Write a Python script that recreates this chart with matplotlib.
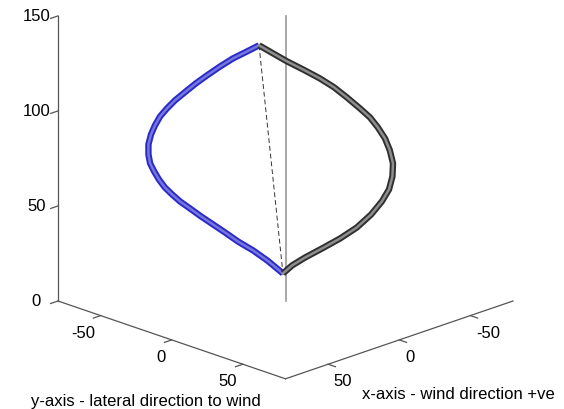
import matplotlib
matplotlib.use("Agg")
import matplotlib.pyplot as plt
from mpl_toolkits.mplot3d import proj3d

plt.rcParams['font.family'] = ['Liberation Sans', 'DejaVu Sans']
plt.rcParams['axes.unicode_minus'] = False

# blue curve (lateral side)
blue_x = [9.3, 14.2, 18.5, 23.0, 27.6, 31.5, 34.6, 38.9, 41.7, 44.1, 45.9, 47.3, 48.2, 48.2,
          47.6, 46.2, 44.5, 42.4, 39.9, 37.1, 33.6, 29.7, 25.5, 21.3, 16.7, 11.4, 6.2, 0.9]
blue_y = [-v for v in blue_x]
blue_z = [134.5, 130.8, 127.6, 123.4, 118.7, 114.5, 110.8, 105.5, 101.3, 97.1, 92.4, 87.6, 82.4, 77.1,
          72.4, 68.2, 63.9, 59.7, 56.1, 52.4, 48.7, 44.5, 40.3, 36.1, 31.3, 26.6, 21.1, 14.5]

# black curve
black_x = [9.3, 4.4, -0.5, -6.2, -12.1, -17.1, -21.6, -26.2, -29.7, -32.5, -35.0, -36.7,
           -37.8, -37.6, -36.4, -33.9, -30.1, -25.1, -19.2, -12.8, -6.9, -2.3, 0.9]
black_y = [-v for v in black_x]
black_z = [134.5, 130.3, 126.1, 121.8, 117.1, 112.4, 107.1, 101.3, 96.6, 91.3, 85.5, 79.2,
           72.4, 65.5, 58.7, 52.4, 45.5, 38.7, 32.9, 27.6, 22.9, 18.7, 14.5]

# chord (dashed) and vertical reference line
chord_x = [9.3, 0.9]
chord_y = [-9.3, -0.9]
chord_z = [134.5, 14.5]
vert_x = [0, 0]
vert_y = [0, 0]
vert_z = [0, 150]

xticks = [-50, 0, 50]
yticks = [-50, 0, 50]
zticks = [0, 50, 100, 150]

W, H = 564, 410
fig = plt.figure(figsize=(W / 100, H / 100), dpi=100)
ax = fig.add_subplot(projection='3d')
ax.set_proj_type('ortho')
ax.view_init(elev=20, azim=45)
ax.set_box_aspect((1, 1, 0.943))

ax.plot(vert_x, vert_y, vert_z, color='#9a9a9a', lw=1.2)
ax.plot(chord_x, chord_y, chord_z, color='#333333', lw=0.7, dashes=(5, 3))
ax.plot(blue_x, blue_y, blue_z, color='#2a2ac8', lw=4.6,
        solid_capstyle='butt', solid_joinstyle='round')
ax.plot(blue_x, blue_y, blue_z, color='#7676dc', lw=1.8, solid_joinstyle='round')
ax.plot(black_x, black_y, black_z, color='#303030', lw=4.6,
        solid_capstyle='butt', solid_joinstyle='round')
ax.plot(black_x, black_y, black_z, color='#8e8e8e', lw=1.8, solid_joinstyle='round')

ax.set_xlim(-80, 80)
ax.set_ylim(-80, 80)
ax.set_zlim(0, 150)
ax.set_xticks(xticks)
ax.set_yticks(yticks)
ax.set_zticks(zticks)
ax.grid(False)
for axis in (ax.xaxis, ax.yaxis, ax.zaxis):
    axis.set_pane_color((1, 1, 1, 0))
    axis.pane.set_edgecolor((1, 1, 1, 0))
    axis.line.set_color('#555555')
    axis.line.set_linewidth(0.9)
    axis._axinfo['tick']['inward_factor'] = 0.4
    axis._axinfo['tick']['outward_factor'] = 0.0
    axis._axinfo['tick']['linewidth'] = {True: 0.9, False: 0.5}
ax.tick_params(labelsize=12, colors='#555555', labelcolor='black', width=0.9)
ax.xaxis.set_tick_params(pad=-3)
ax.yaxis.set_tick_params(pad=-3)
ax.zaxis.set_tick_params(pad=1.5)
for t in ax.get_xticklabels():
    t.set_ha('left')
for t in ax.get_yticklabels():
    t.set_ha('right')
for t in ax.get_zticklabels():
    t.set_va('center')

fig.text(146 / W, 1 - 402 / H, 'y-axis - lateral direction to wind', fontsize=12,
         ha='center', va='center')
fig.text(458 / W, 1 - 395 / H, 'x-axis - wind direction +ve', fontsize=12,
         ha='center', va='center')

# move the axes so the box corners land where they are in the picture
fig.canvas.draw()
def to_px(x, y, z):
    xs, ys, _ = proj3d.proj_transform(x, y, z, ax.get_proj())
    return ax.transData.transform((xs, ys))

left = to_px(80, -80, 0)
right = to_px(-80, 80, 0)
s = (513 - 58) / (right[0] - left[0])
bb = ax.get_position()
x0 = 58 + s * (bb.x0 * W - left[0])
y0 = (H - 302) + s * (bb.y0 * H - left[1])
ax.set_position([x0 / W, y0 / H, bb.width * s, bb.height * s])

fig.savefig('out.png', dpi=100)
